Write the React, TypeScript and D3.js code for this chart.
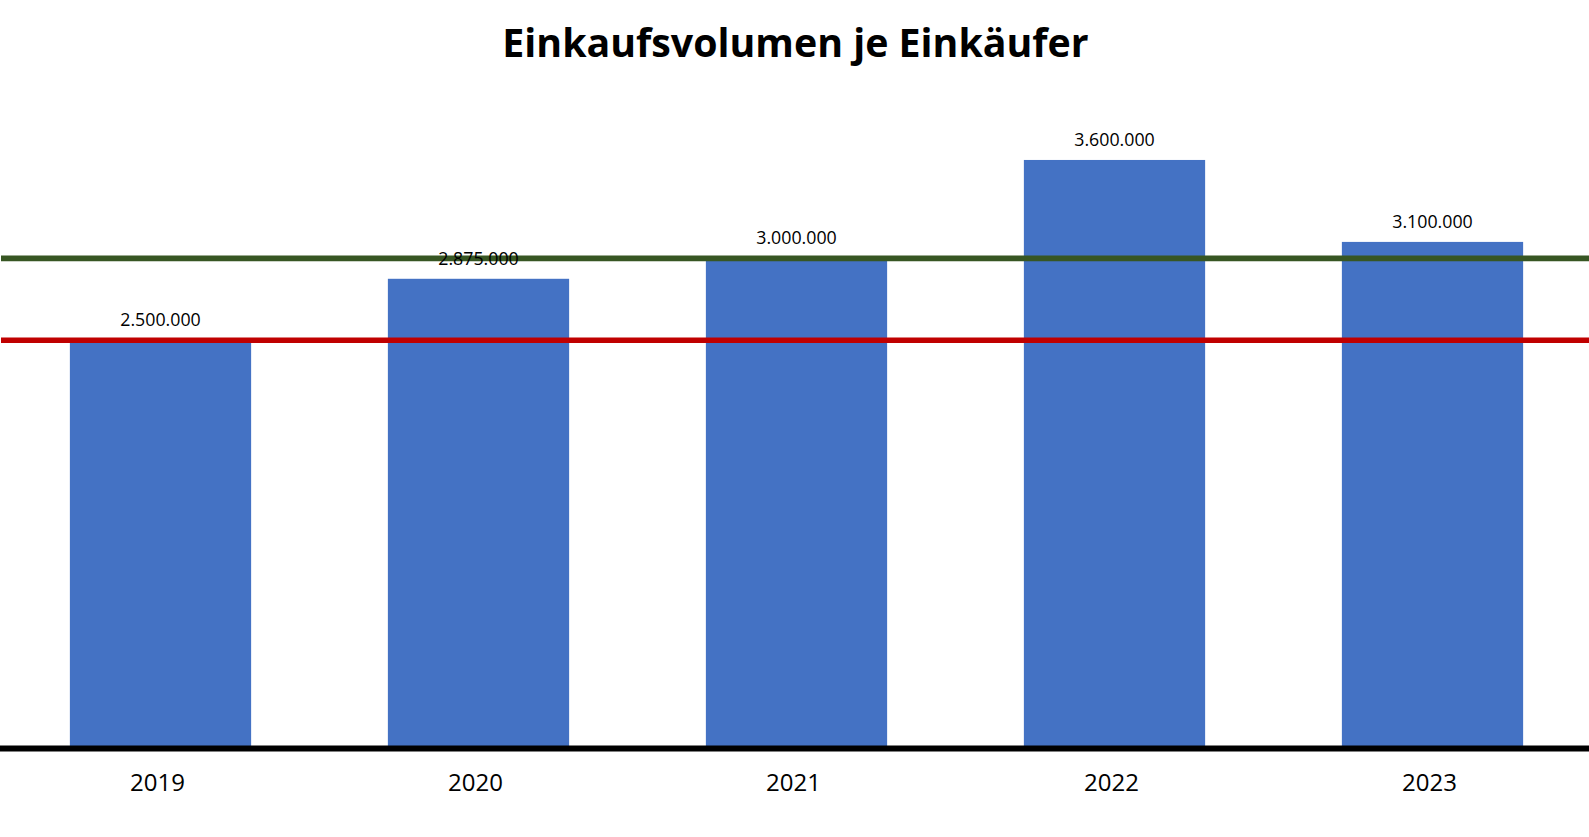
import React from "react";
import * as d3 from "d3";

const W = 1589;
const H = 837;

const title = "Einkaufsvolumen je Einkäufer";
const years = ["2019", "2020", "2021", "2022", "2023"];
const volumes = [2500000, 2875000, 3000000, 3600000, 3100000];
const refLines = [
  { name: "Ziel", value: 2500000, color: "#C00000" },
  { name: "Durchschnitt", value: 3000000, color: "#375623" },
];

const fmt = (v: number) => d3.format(",")(v).replace(/,/g, ".");

export default function App() {
  const x = d3.scaleBand<string>().domain(years).range([1.5, 1591.5]).paddingInner(0.43).paddingOuter(0.215);
  const y = d3.scaleLinear().domain([0, 4000000]).range([750, 94.4]);
  const font = "'Open Sans', 'Noto Sans', sans-serif";
  return (
    <svg
      width={W}
      height={H}
      viewBox={`0 0 ${W} ${H}`}
      style={{ position: "absolute", left: 0, top: 0, display: "block", background: "#fff" }}
    >
      <rect x={0} y={0} width={W} height={H} fill="#fff" />
      <text x={795.5} y={57} textAnchor="middle" fontFamily={font} fontWeight={700} fontSize={39.3} fill="#000">
        {title}
      </text>
      {years.map((yr, i) => (
        <rect
          key={yr}
          x={x(yr)}
          y={y(volumes[i])}
          width={x.bandwidth()}
          height={y(0) - y(volumes[i])}
          fill="#4472C4"
        />
      ))}
      {refLines.map((r) => (
        <line key={r.name} x1={1} x2={W} y1={y(r.value)} y2={y(r.value)} stroke={r.color} strokeWidth={5.7} />
      ))}
      <line x1={0} x2={W} y1={748.5} y2={748.5} stroke="#000" strokeWidth={5.8} />
      {years.map((yr, i) => (
        <text
          key={"l" + yr}
          x={(x(yr) as number) + x.bandwidth() / 2}
          y={y(volumes[i]) - 14}
          textAnchor="middle"
          fontFamily={font}
          fontSize={17.8}
          fill="#000"
        >
          {fmt(volumes[i])}
        </text>
      ))}
      {years.map((yr) => (
        <text
          key={"t" + yr}
          x={(x(yr) as number) + x.bandwidth() / 2 - 3}
          y={791}
          textAnchor="middle"
          fontFamily={font}
          fontSize={24}
          fill="#000"
        >
          {yr}
        </text>
      ))}
    </svg>
  );
}
